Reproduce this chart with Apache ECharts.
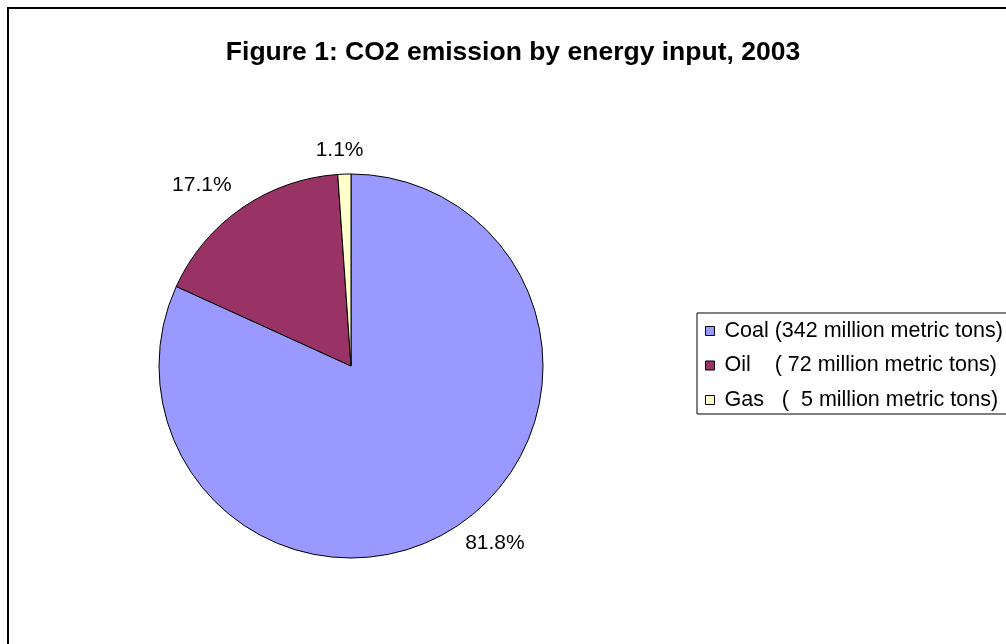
<!DOCTYPE html>
<html>
<head>
<meta charset="utf-8">
<script src="https://cdn.jsdelivr.net/npm/echarts@6/dist/echarts.min.js"></script>
<style>
html,body{margin:0;padding:0;background:#fff;}
#chart{width:1006px;height:644px;}
</style>
</head>
<body>
<div id="chart"></div>
<script>
const titleText = 'Figure 1: CO2 emission by energy input, 2003';
const categories = ['Coal', 'Oil', 'Gas'];
const legendLabels = ['Coal (342 million metric tons)', 'Oil    ( 72 million metric tons)', 'Gas   (  5 million metric tons)'];
const tons = [342, 72, 5];
const shares = [81.8, 17.1, 1.1];
const colors = ['#9999FF', '#993366', '#FFFFCC'];

const FONT = '"Liberation Sans", Arial, sans-serif';
const labelLens = [19, 28, 24];
const labelShift = [0, 6, 20];
const chart = echarts.init(document.getElementById('chart'), null, {renderer: 'canvas'});

const data = categories.map((c, i) => ({
  name: legendLabels[i],
  value: shares[i],
  tons: tons[i],
  itemStyle: {color: colors[i]},
  labelLine: {length: labelLens[i], length2: 0}
}));

chart.setOption({
  backgroundColor: '#fff',
  animation: false,
  title: {
    text: titleText,
    left: 508,
    textAlign: 'center',
    top: 34,
    textStyle: {fontFamily: FONT, fontWeight: 'bold', fontSize: 26.5, color: '#000'}
  },
  legend: {
    orient: 'vertical',
    left: 697,
    top: 313,
    data: legendLabels,
    icon: 'rect',
    itemWidth: 9,
    itemHeight: 9,
    itemGap: 12.5,
    selectedMode: false,
    backgroundColor: '#fff',
    borderColor: '#000',
    borderWidth: 1,
    padding: [7, 20, 3, 8],
    itemStyle: {borderColor: '#000', borderWidth: 1},
    textStyle: {fontFamily: FONT, fontSize: 21.5, color: '#000', lineHeight: 20, padding: [0, 0, 0, 5]}
  },
  graphic: [{
    type: 'rect',
    shape: {x: 8, y: 8, width: 1100, height: 700},
    style: {fill: 'none', stroke: '#000', lineWidth: 2},
    silent: true,
    z: 100
  }],
  series: [{
    type: 'pie',
    center: [351, 366],
    radius: 192,
    startAngle: 90,
    clockwise: true,
    avoidLabelOverlap: false,
    data: data,
    itemStyle: {borderColor: '#000', borderWidth: 1},
    label: {
      show: true,
      position: 'outside',
      formatter: p => p.value.toFixed(1) + '%',
      fontFamily: FONT,
      fontSize: 21,
      color: '#000',
      distanceToLabelLine: 0
    },
    labelLine: {show: false},
    labelLayout: p => ({dx: labelShift[p.dataIndex]}),
    emphasis: {disabled: true}
  }]
});
</script>
</body>
</html>
